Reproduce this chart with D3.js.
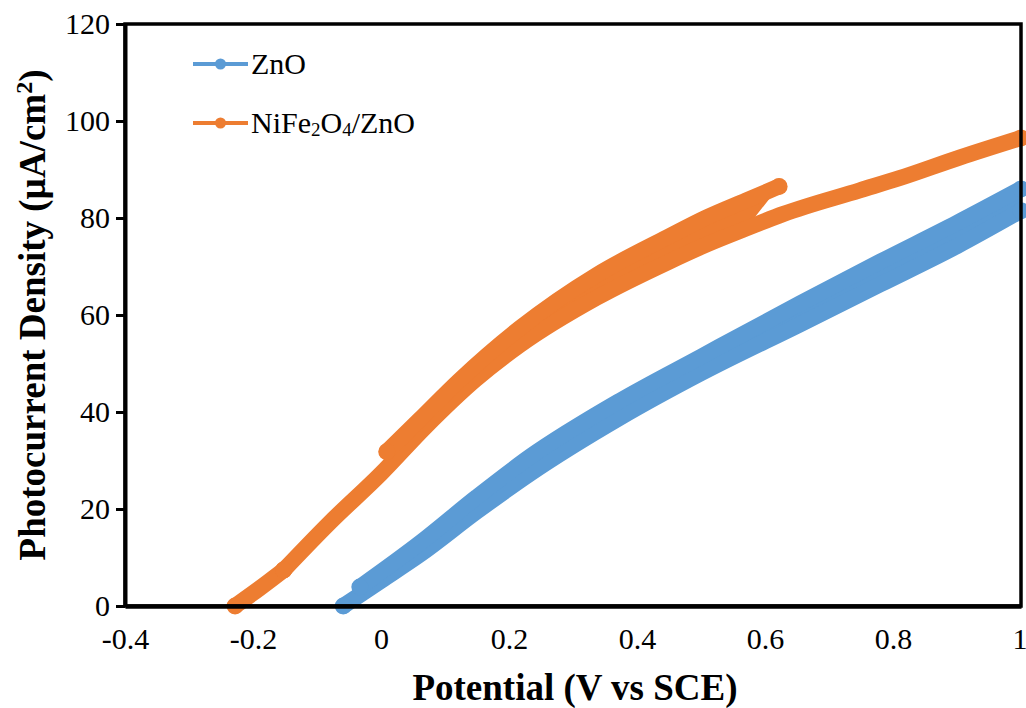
<!DOCTYPE html>
<html>
<head>
<meta charset="utf-8">
<script src="https://cdn.jsdelivr.net/npm/d3@7"></script>
<style>
  body { margin: 0; background: #fff; }
  svg text { font-family: "Times New Roman", "Liberation Serif", serif; fill: #000; }
</style>
</head>
<body>
<div id="container"></div>
<script>
// axis ticks
var xTicks = [-0.4, -0.2, 0, 0.2, 0.4, 0.6, 0.8, 1];
var yTicks = [0, 20, 40, 60, 80, 100, 120];

// ZnO: two scans (potential V vs SCE, photocurrent uA/cm2)
var znoLowerV = [-0.059, 0.0, 0.061, 0.15, 0.233, 0.373, 0.5, 0.655, 0.78, 0.9, 1.0];
var znoLowerJ = [0, 5.2, 10.6, 19.5, 27.3, 38.8, 48.0, 58.1, 66.3, 74.2, 81.5];
var znoUpperV = [-0.033, 0.061, 0.15, 0.233, 0.373, 0.5, 0.655, 0.78, 0.9, 1.0];
var znoUpperJ = [3.9, 13.0, 22.5, 30.8, 42.3, 51.4, 62.4, 71.0, 79.0, 86.0];

// NiFe2O4/ZnO
var nfoStartV = [-0.228, -0.19, -0.152];
var nfoStartJ = [0, 3.6, 7.4];
var nfoLowerV = [-0.152, -0.08, 0.0, 0.07, 0.147, 0.217, 0.3375, 0.45, 0.51, 0.57, 0.628, 0.748, 0.81, 0.905, 1.0];
var nfoLowerJ = [7.4, 17.2, 27.3, 37.0, 46.6, 53.8, 63.6, 71.0, 74.6, 77.8, 80.8, 85.7, 88.2, 92.5, 96.5];
var nfoUpperV = [0.009, 0.06, 0.123, 0.217, 0.3375, 0.447, 0.51, 0.57, 0.622];
var nfoUpperJ = [31.8, 38.4, 46.6, 57.3, 68.3, 76.0, 80.2, 83.6, 86.5];

var blue = "#5B9BD5", orange = "#ED7D31";

function draw() {
    var width = 1026, height = 708;
    var plotLeft = 125, plotRight = 1021, plotTop = 24, plotBottom = 606;

    var svg = d3.select("#container").append("svg")
        .attr("width", width)
        .attr("height", height);

    var x = d3.scaleLinear().domain([-0.4, 1]).range([plotLeft, plotRight]);
    var y = d3.scaleLinear().domain([0, 120]).range([plotBottom, plotTop]);

    function pts(vs, js) {
        return vs.map(function(v, i) { return [v, js[i]]; });
    }

    var line = d3.line()
        .x(function(d) { return x(d[0]); })
        .y(function(d) { return y(d[1]); })
        .curve(d3.curveMonotoneX);

    var poly = d3.line()
        .x(function(d) { return x(d[0]); })
        .y(function(d) { return y(d[1]); });

    function drawSeries(color, curves, upper, lower) {
        var g = svg.append("g");
        // fill the gap between the two scans
        var lo = lower.filter(function(d) {
            return d[0] >= upper[0][0] && d[0] <= upper[upper.length - 1][0];
        });
        g.append("path")
            .attr("d", poly(upper.concat(lo.slice().reverse())) + "Z")
            .attr("fill", color);
        curves.forEach(function(c) {
            g.append("path")
                .attr("d", line(c))
                .attr("fill", "none")
                .attr("stroke", color)
                .attr("stroke-width", 16)
                .attr("stroke-linecap", "round")
                .attr("stroke-linejoin", "round");
            g.selectAll(null)
                .data([c[0], c[c.length - 1]])
                .enter().append("circle")
                .attr("cx", function(d) { return x(d[0]); })
                .attr("cy", function(d) { return y(d[1]); })
                .attr("r", 8.5)
                .attr("fill", color);
        });
    }

    var znoLower = pts(znoLowerV, znoLowerJ),
        znoUpper = pts(znoUpperV, znoUpperJ);
    drawSeries(blue, [znoLower, znoUpper], znoUpper, znoLower);

    var nfoStart = pts(nfoStartV, nfoStartJ),
        nfoLower = pts(nfoLowerV, nfoLowerJ),
        nfoUpper = pts(nfoUpperV, nfoUpperJ);
    drawSeries(orange, [nfoStart, nfoLower, nfoUpper], nfoUpper, nfoLower);

    // frame
    svg.append("rect")
        .attr("x", plotLeft).attr("y", plotTop)
        .attr("width", plotRight - plotLeft).attr("height", plotBottom - plotTop)
        .attr("fill", "none")
        .attr("stroke", "#000")
        .attr("stroke-width", 3.5);

    // y axis
    var yAxis = svg.append("g")
        .attr("transform", "translate(" + plotLeft + ",0)")
        .call(d3.axisLeft(y).tickValues(yTicks).tickSize(9).tickSizeOuter(0).tickPadding(6)
            .tickFormat(function(d) { return String(d); }));
    yAxis.select(".domain").attr("stroke", "#000").attr("stroke-width", 4);
    yAxis.selectAll(".tick line").attr("stroke", "#000").attr("stroke-width", 3);
    yAxis.selectAll(".tick text")
        .style("font-size", "30px")
        .style("font-family", "'Times New Roman', 'Liberation Serif', serif");

    // x axis (labels only)
    var xAxis = svg.append("g")
        .attr("transform", "translate(0," + plotBottom + ")")
        .call(d3.axisBottom(x).tickValues(xTicks).tickSize(0).tickSizeOuter(0).tickPadding(22)
            .tickFormat(function(d) { return String(d); }));
    xAxis.select(".domain").attr("stroke", "#000").attr("stroke-width", 4.5);
    xAxis.selectAll(".tick text")
        .style("font-size", "30px")
        .style("font-family", "'Times New Roman', 'Liberation Serif', serif");
    // last label sits on the right edge of the picture
    xAxis.selectAll(".tick text").filter(function(d) { return d === 1; })
        .attr("text-anchor", "end").attr("dx", 6);

    // axis titles
    svg.append("text")
        .attr("x", (plotLeft + plotRight) / 2 + 2)
        .attr("y", 700)
        .attr("text-anchor", "middle")
        .style("font-size", "37px")
        .style("font-weight", "bold")
        .text("Potential (V vs SCE)");

    var yt = svg.append("text")
        .attr("transform", "translate(45,315) rotate(-90)")
        .attr("text-anchor", "middle")
        .style("font-size", "37px")
        .style("font-weight", "bold");
    yt.append("tspan").text("Photocurrent Density (\u00B5A/cm");
    yt.append("tspan").attr("dy", -13).style("font-size", "24px").text("2");
    yt.append("tspan").attr("dy", 13).text(")");

    // legend
    var legend = [
        { color: blue, parts: [["ZnO", false]] },
        { color: orange, parts: [["NiFe", false], ["2", true], ["O", false], ["4", true], ["/ZnO", false]] }
    ];
    var lg = svg.append("g").selectAll("g")
        .data(legend)
        .enter().append("g")
        .attr("transform", function(d, i) { return "translate(0," + (64 + i * 59) + ")"; });
    lg.append("line")
        .attr("x1", 193).attr("x2", 248)
        .attr("stroke", function(d) { return d.color; })
        .attr("stroke-width", 4);
    lg.append("circle")
        .attr("cx", 220.5).attr("r", 5.5)
        .attr("fill", function(d) { return d.color; });
    var lt = lg.append("text")
        .attr("x", 251)
        .attr("y", 10)
        .style("font-size", "30px");
    lt.selectAll("tspan")
        .data(function(d) { return d.parts; })
        .enter().append("tspan")
        .style("font-size", function(p) { return p[1] ? "19px" : "30px"; })
        .attr("dy", function(p, i, nodes) {
            if (p[1]) return 3;
            var prev = i > 0 ? d3.select(nodes[i - 1]).datum() : null;
            return prev && prev[1] ? -3 : 0;
        })
        .text(function(p) { return p[0]; });
}

draw();
</script>
</body>
</html>
